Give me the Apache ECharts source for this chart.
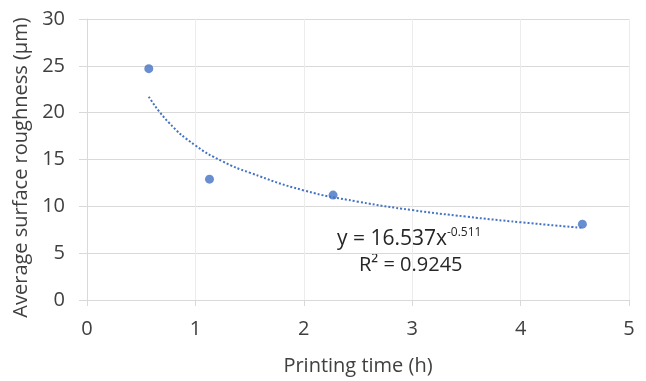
<!DOCTYPE html>
<html>
<head>
<meta charset="utf-8">
<script src="https://cdn.jsdelivr.net/npm/echarts@6/dist/echarts.min.js"></script>
<style>
  html, body { margin: 0; padding: 0; background: #fff; }
  #chart { width: 646px; height: 381px; }
</style>
</head>
<body>
<div id="chart"></div>
<script>
// measured points
const printTime = [0.57, 1.13, 2.27, 4.57];
const roughness = [24.7, 12.9, 11.2, 8.1];

// power trendline
const trendX = [0.57, 0.75, 1, 1.25, 1.5, 2, 2.5, 3, 3.5, 4, 4.57];
const trendY = [21.7, 19.0, 16.5, 14.8, 13.6, 11.7, 10.5, 9.6, 8.9, 8.3, 7.7];

const xTicks = [0, 1, 2, 3, 4, 5];
const yTicks = [0, 5, 10, 15, 20, 25, 30];

const font = '"Open Sans", Lato, sans-serif';
const txt = '#404040';
const grey = '#d9d9d9';
const blue = '#4472c4';

const chart = echarts.init(document.getElementById('chart'));
chart.setOption({
  animation: false,
  grid: { left: 87, right: 17, top: 19, bottom: 78 },
  xAxis: {
    type: 'value',
    min: xTicks[0], max: xTicks[xTicks.length - 1], interval: 1,
    name: 'Printing time (h)',
    nameLocation: 'middle', nameGap: 56,
    nameTextStyle: { color: txt, fontSize: 20, fontFamily: font },
    axisLine: { show: true, lineStyle: { color: grey, width: 1 } },
    axisTick: { show: true, length: 6, lineStyle: { color: grey } },
    axisLabel: { color: txt, fontSize: 20, fontFamily: font, margin: 19 },
    splitLine: { show: true, lineStyle: { color: '#ececec', width: 1 } }
  },
  yAxis: {
    type: 'value',
    min: yTicks[0], max: yTicks[yTicks.length - 1], interval: 5,
    name: 'Average surface roughness (\u00b5m)',
    nameLocation: 'middle', nameGap: 52,
    nameTextStyle: { color: txt, fontSize: 20, fontFamily: font, padding: [0, 16, 0, 0] },
    axisLine: { show: true, lineStyle: { color: grey, width: 1 } },
    axisTick: { show: true, length: 8, lineStyle: { color: grey } },
    axisLabel: { color: txt, fontSize: 20, fontFamily: font, margin: 22 },
    splitLine: { show: true, lineStyle: { color: grey, width: 1 } }
  },
  series: [
    {
      type: 'line',
      data: trendX.map((x, i) => [x, trendY[i]]),
      smooth: true,
      symbol: 'none',
      lineStyle: { color: blue, width: 2, type: [2, 2] },
      z: 2
    },
    {
      type: 'scatter',
      data: printTime.map((x, i) => [x, roughness[i]]),
      symbolSize: 9,
      itemStyle: { color: blue },
      z: 3
    }
  ],
  graphic: [
    {
      type: 'text',
      left: 337, top: 227,
      style: {
        text: '{b|y = 16.537x}{s|-0.511}',
        rich: {
          b: { fontSize: 21, lineHeight: 24, fontFamily: font, fill: '#262626' },
          s: { fontSize: 12, lineHeight: 12, fontFamily: font, fill: '#262626', verticalAlign: 'top' }
        }
      }
    },
    {
      type: 'text',
      left: 359, top: 255,
      style: {
        text: 'R\u00b2 = 0.9245',
        fontSize: 20, fontFamily: font, fill: '#262626'
      }
    }
  ]
});
</script>
</body>
</html>
